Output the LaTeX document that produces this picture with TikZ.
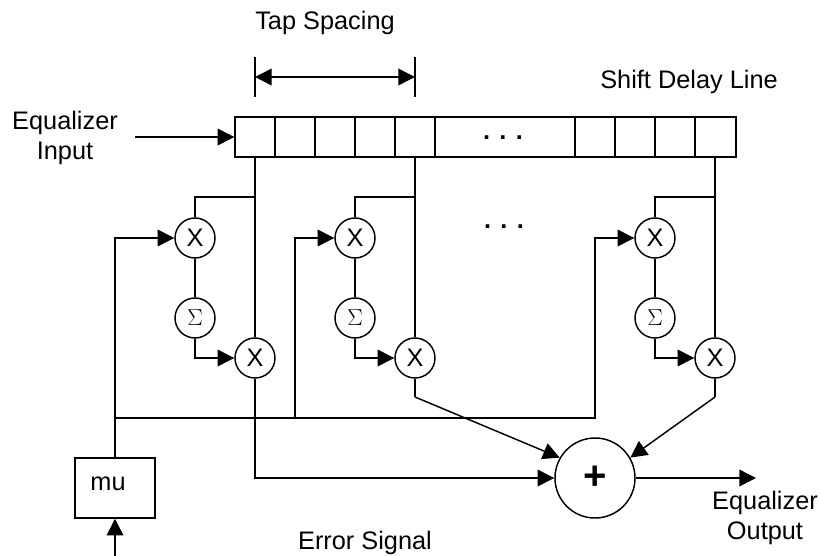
\documentclass[tikz,border=0pt]{standalone}
\usepackage{fontspec}
\setmainfont{Liberation Sans}
\usetikzlibrary{arrows.meta}
\tikzset{
  lbl/.style={font=\fontsize{19}{22.5}\selectfont,align=center,inner sep=0pt},
  mulnode/.style={draw,circle,minimum size=30pt,inner sep=0pt,font=\fontsize{19}{22.5}\selectfont},
  sumnode/.style={draw,circle,minimum size=30pt,inner sep=0pt,font=\fontsize{17}{20}\selectfont},
  tip/.style={-{Triangle[length=12.5pt,width=12.5pt]}}
}
\begin{document}
\begin{tikzpicture}[x=0.75pt,y=-0.75pt,line width=1.1pt]
\useasboundingbox (0,0) rectangle (820,556);
% shift register
\node (sdl) at (485.5,137) [draw,minimum width=375.75pt,minimum height=30pt,inner sep=0pt] {};
\draw (275,117)--(275,157) (315,117)--(315,157) (355,117)--(355,157) (395,117)--(395,157) (435,117)--(435,157);
\draw (575,117)--(575,157) (615,117)--(615,157) (655,117)--(655,157) (695,117)--(695,157);
\node (dotsa) at (503,138) [lbl] {\textbf{. . .}};
\node (dotsb) at (504,227) [lbl] {\textbf{. . .}};
% labels
\node (tapl) at (325,22.5) [lbl] {Tap Spacing};
\node (sdll) at (689,81.5) [lbl] {Shift Delay Line};
\node (inl) at (65,137.5) [lbl] {Equalizer\\Input};
\node (outl) at (765,518) [lbl] {Equalizer\\Output};
\node (errl) at (365,542.5) [lbl] {Error Signal};
% tap spacing
\coordinate (ta) at (255,57);
\coordinate (tb) at (255,97);
\coordinate (tc) at (415,57);
\coordinate (td) at (415,97);
\coordinate (te) at (255,77);
\coordinate (tf) at (415,77);
\draw (ta)--(tb) (tc)--(td);
\draw [{Triangle[length=12.5pt,width=12.5pt]}-{Triangle[length=12.5pt,width=12.5pt]}] (te)--(tf);
% multipliers and sums
\node (xa) at (195,238) [mulnode] {X};
\node (sa) at (195,318) [sumnode] {$\Sigma$};
\node (ya) at (255,358) [mulnode] {X};
\node (xb) at (355,238) [mulnode] {X};
\node (sb) at (355,318) [sumnode] {$\Sigma$};
\node (yb) at (415,358) [mulnode] {X};
\node (xc) at (655,238) [mulnode] {X};
\node (sc) at (655,318) [sumnode] {$\Sigma$};
\node (yc) at (715,358) [mulnode] {X};
\node (plus) at (595,478) [draw,circle,minimum size=60pt,inner sep=0pt,font=\fontsize{30}{30}\selectfont\bfseries] {+};
\node (mu) at (115,488) [draw,minimum width=60pt,minimum height=45pt,inner sep=0pt] {};
\node (mul) at (108,484) [lbl] {mu};
% taps
\coordinate (pa) at (255,157);
\coordinate (pb) at (415,157);
\coordinate (pc) at (715,157);
\coordinate (qa) at (255,197);
\coordinate (qb) at (415,197);
\coordinate (qc) at (715,197);
\draw (pa)--(ya) (pb)--(yb) (pc)--(yc);
\draw (qa)-|(xa) (qb)-|(xb) (qc)-|(xc);
\draw (xa)--(sa) (xb)--(sb) (xc)--(sc);
\draw [tip] (sa.south)|-(ya.west);
\draw [tip] (sb.south)|-(yb.west);
\draw [tip] (sc.south)|-(yc.west);
% feedback
\coordinate (ba) at (115,418);
\coordinate (bb) at (295,418);
\coordinate (bc) at (595,418);
\draw [tip] (mu.north)|-(xa.west);
\draw [tip] (ba)--(bc)|-(xc.west);
\draw [tip] (bb)|-(xb.west);
% to the adder
\coordinate (ea) at (415,397);
\coordinate (eb) at (715,397);
\draw [tip] (ya.south)|-(plus.west);
\draw (yb)--(ea);
\draw [tip] (ea)--(plus.150);
\draw (yc)--(eb);
\draw [tip] (eb)--(plus.30);
% in and out
\coordinate (ina) at (135,137);
\coordinate (outa) at (756,478);
\coordinate (era) at (115,556);
\draw [tip] (ina)--(sdl.west);
\draw [tip] (plus)--(outa);
\draw [tip] (era)--(mu.south);
\end{tikzpicture}
\end{document}
